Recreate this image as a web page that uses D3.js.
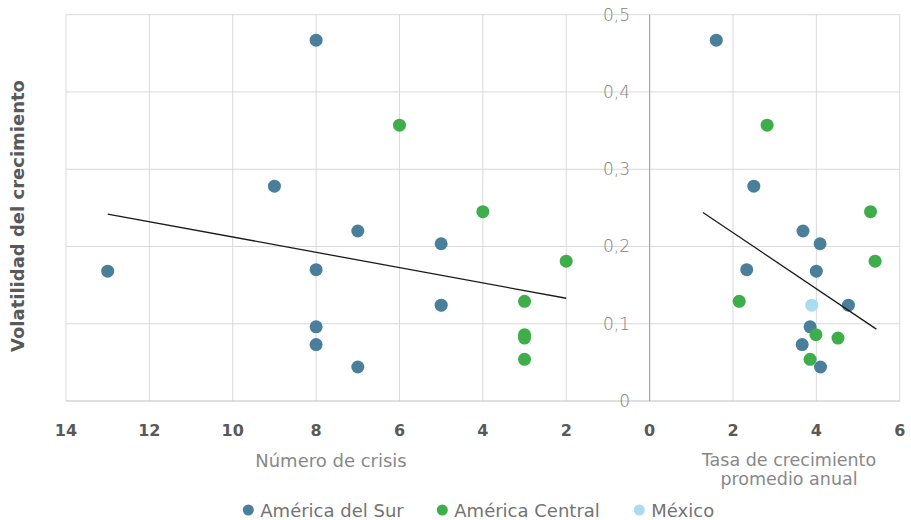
<!DOCTYPE html>
<html>
<head>
<meta charset="utf-8">
<script src="https://cdn.jsdelivr.net/npm/d3@7"></script>
<style>
  body { margin: 0; background: #fff; }
  svg { display: block; font-family: "DejaVu Sans", sans-serif; }
</style>
</head>
<body>
<svg id="chart" width="911" height="520"></svg>
<script>
// ---- data ----
const regions    = ["Sur","Central","Sur","Central","Sur","Sur","Central","Sur","Sur","Central","Sur","México","Sur","Central","Central","Sur","Central","Sur"];
const crises     = [8, 6, 9, 4, 7, 5, 2, 8, 13, 3, 5, 5, 8, 3, 3, 8, 3, 7];
const growth     = [1.60, 2.82, 2.50, 5.30, 3.68, 4.09, 5.41, 2.33, 4.00, 2.15, 4.77, 3.89, 3.85, 3.99, 4.52, 3.66, 3.85, 4.10];
const volatility = [0.467, 0.357, 0.278, 0.245, 0.220, 0.2035, 0.181, 0.170, 0.168, 0.129, 0.124, 0.124, 0.096, 0.0858, 0.0815, 0.073, 0.054, 0.044];
const trendCrisis = [[13, 0.242], [2, 0.133]];
const trendGrowth = [[1.28, 0.244], [5.44, 0.093]];
const xTicks = [-14, -12, -10, -8, -6, -4, -2, 0, 2, 4, 6];
const yTicks = [0, 0.1, 0.2, 0.3, 0.4, 0.5];
const seriesNames = ["América del Sur", "América Central", "México"];
const seriesKeys  = ["Sur", "Central", "México"];
const seriesColors = ["#4a7f9b", "#3dae49", "#a9dcf1"];

// ---- scales ----
const svg = d3.select("#chart");
const x = d3.scaleLinear().domain([-14, 6]).range([66, 899.7]);
const y = d3.scaleLinear().domain([0, 0.5]).range([401, 14.7]);
const color = d3.scaleOrdinal().domain(seriesKeys).range(seriesColors);

// grid
const grid = svg.append("g");
grid.selectAll("line.v").data(xTicks.filter(d => d !== 0)).join("line")
  .attr("x1", d => x(d)).attr("x2", d => x(d))
  .attr("y1", y(0.5)).attr("y2", y(0))
  .attr("stroke", "#d9d9d9").attr("stroke-width", 1);
grid.selectAll("line.h").data(yTicks.filter(d => d !== 0)).join("line")
  .attr("x1", x(-14)).attr("x2", x(6))
  .attr("y1", d => y(d)).attr("y2", d => y(d))
  .attr("stroke", "#d9d9d9").attr("stroke-width", 1);
// axis lines
svg.append("line").attr("x1", x(-14)).attr("x2", x(6)).attr("y1", y(0)).attr("y2", y(0))
  .attr("stroke", "#bfbfbf").attr("stroke-width", 1.2);
svg.append("line").attr("x1", x(0)).attr("x2", x(0)).attr("y1", y(0.5)).attr("y2", y(0))
  .attr("stroke", "#a6a6a6").attr("stroke-width", 1.2);

// y tick labels
const fmt = d => d === 0 ? "0" : d3.format(".1f")(d).replace(".", ",");
svg.append("g").selectAll("text").data(yTicks).join("text")
  .attr("x", 630).attr("y", d => y(d) + 1)
  .attr("text-anchor", "end").attr("dominant-baseline", "middle")
  .attr("fill", "#808080").attr("font-size", 17).attr("font-weight", 300)
  .text(fmt);

// x tick labels
svg.append("g").selectAll("text").data(xTicks).join("text")
  .attr("x", d => x(d)).attr("y", 436)
  .attr("text-anchor", "middle")
  .attr("fill", "#595959").attr("font-size", 16).attr("font-weight", 700)
  .text(d => Math.abs(d));

// axis titles
svg.append("text").attr("x", 331).attr("y", 467).attr("text-anchor", "middle")
  .attr("fill", "#888888").attr("font-size", 18).attr("font-weight", 400)
  .text("Número de crisis");
const t2 = svg.append("text").attr("text-anchor", "middle")
  .attr("fill", "#888888").attr("font-size", 17.5).attr("font-weight", 400);
t2.append("tspan").attr("x", 789).attr("y", 466).text("Tasa de crecimiento");
t2.append("tspan").attr("x", 789).attr("y", 485).text("promedio anual");

svg.append("text").attr("transform", "translate(24,216) rotate(-90)")
  .attr("text-anchor", "middle").attr("fill", "#595959")
  .attr("font-size", 18).attr("font-weight", 700)
  .text("Volatilidad del crecimiento");

// points
const idx = d3.range(regions.length);
const order = ["México", "Sur", "Central"];
const sorted = order.flatMap(k => idx.filter(i => regions[i] === k));
const pts = svg.append("g");
pts.selectAll("circle.c").data(sorted).join("circle")
  .attr("cx", i => x(-crises[i])).attr("cy", i => y(volatility[i]))
  .attr("r", 6.5).attr("fill", i => color(regions[i]));
pts.selectAll("circle.g").data(sorted).join("circle")
  .attr("cx", i => x(growth[i])).attr("cy", i => y(volatility[i]))
  .attr("r", 6.5).attr("fill", i => color(regions[i]));

// trend lines
const line = d3.line().x(d => x(d[0])).y(d => y(d[1]));
svg.append("path").datum(trendCrisis.map(d => [-d[0], d[1]])).attr("d", line)
  .attr("fill", "none").attr("stroke", "#1a1a1a").attr("stroke-width", 1.3);
svg.append("path").datum(trendGrowth).attr("d", line)
  .attr("fill", "none").attr("stroke", "#1a1a1a").attr("stroke-width", 1.3);

// legend
const legendX = [248.3, 442.3, 639.3];
const lg = svg.append("g").selectAll("g").data(seriesKeys).join("g")
  .attr("transform", (d, i) => `translate(${legendX[i]},510)`);
lg.append("circle").attr("r", 5.5).attr("fill", d => color(d));
lg.append("text").attr("x", 12).attr("y", 6.5)
  .attr("fill", "#737373").attr("font-size", 18).attr("font-weight", 400)
  .text((d, i) => seriesNames[i]);
</script>
</body>
</html>
